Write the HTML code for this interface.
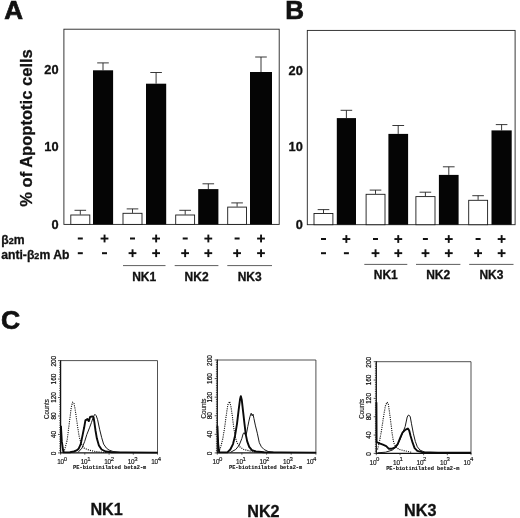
<!DOCTYPE html>
<html><head><meta charset="utf-8"><title>Figure</title>
<style>
html,body{margin:0;padding:0;background:#fff;}
body{width:520px;height:518px;overflow:hidden;font-family:"Liberation Sans",sans-serif;}
svg{display:block;filter:grayscale(1);}
text{font-family:"Liberation Sans",sans-serif;fill:#111;}
.b{font-weight:bold;stroke:#111;stroke-width:0.3px;}
.bb{font-weight:bold;stroke:#111;stroke-width:0.7px;}
</style></head><body>
<svg width="520" height="518" viewBox="0 0 520 518">
<rect width="520" height="518" fill="#fff"/>
<text class="bb" x="4.3" y="19" font-size="26">A</text>
<text class="bb" x="285.2" y="19.4" font-size="26">B</text>
<text class="bb" x="1" y="328.6" font-size="26.5">C</text>
<rect x="63.9" y="29.2" width="215.3" height="195.2" fill="none" stroke="#222" stroke-width="0.9"/>
<line x1="80.3" y1="210.3" x2="80.3" y2="214.6" stroke="#222" stroke-width="0.9"/><line x1="74.5" y1="210.3" x2="86.1" y2="210.3" stroke="#222" stroke-width="0.9"/><rect x="70.8" y="215.0" width="19.0" height="9.4" fill="#fff" stroke="#1a1a1a" stroke-width="0.9"/>
<line x1="103.0" y1="62.9" x2="103.0" y2="70.3" stroke="#222" stroke-width="0.9"/><line x1="97.2" y1="62.9" x2="108.8" y2="62.9" stroke="#222" stroke-width="0.9"/><rect x="93.0" y="70.3" width="20.1" height="154.1" fill="#050505"/>
<line x1="132.5" y1="208.9" x2="132.5" y2="212.9" stroke="#222" stroke-width="0.9"/><line x1="126.7" y1="208.9" x2="138.3" y2="208.9" stroke="#222" stroke-width="0.9"/><rect x="123.0" y="213.3" width="19.0" height="11.1" fill="#fff" stroke="#1a1a1a" stroke-width="0.9"/>
<line x1="156.1" y1="72.5" x2="156.1" y2="83.7" stroke="#222" stroke-width="0.9"/><line x1="150.3" y1="72.5" x2="161.9" y2="72.5" stroke="#222" stroke-width="0.9"/><rect x="146.0" y="83.7" width="20.2" height="140.7" fill="#050505"/>
<line x1="185.2" y1="210.3" x2="185.2" y2="214.6" stroke="#222" stroke-width="0.9"/><line x1="179.3" y1="210.3" x2="191.0" y2="210.3" stroke="#222" stroke-width="0.9"/><rect x="175.7" y="215.0" width="18.9" height="9.4" fill="#fff" stroke="#1a1a1a" stroke-width="0.9"/>
<line x1="208.3" y1="183.8" x2="208.3" y2="189.1" stroke="#222" stroke-width="0.9"/><line x1="202.5" y1="183.8" x2="214.1" y2="183.8" stroke="#222" stroke-width="0.9"/><rect x="198.2" y="189.1" width="20.2" height="35.3" fill="#050505"/>
<line x1="237.1" y1="202.9" x2="237.1" y2="206.7" stroke="#222" stroke-width="0.9"/><line x1="231.3" y1="202.9" x2="242.9" y2="202.9" stroke="#222" stroke-width="0.9"/><rect x="227.7" y="207.1" width="18.8" height="17.3" fill="#fff" stroke="#1a1a1a" stroke-width="0.9"/>
<line x1="261.0" y1="57.0" x2="261.0" y2="72.0" stroke="#222" stroke-width="0.9"/><line x1="255.2" y1="57.0" x2="266.8" y2="57.0" stroke="#222" stroke-width="0.9"/><rect x="250.0" y="72.0" width="22.0" height="152.4" fill="#050505"/>
<text class="b" x="58.6" y="74.4" font-size="12.8" text-anchor="end">20</text>
<text class="b" x="58.6" y="151.1" font-size="12.8" text-anchor="end">10</text>
<text class="b" x="58.6" y="228.7" font-size="12.8" text-anchor="end">0</text>
<text class="b" font-size="17" text-anchor="middle" transform="translate(32.1,128) rotate(-90) scale(0.975,1)">% of Apoptotic cells</text>
<text class="b" x="1.2" y="243.7" font-size="12.2">β<tspan font-size="9">2</tspan>m</text>
<text class="b" x="1.2" y="258.8" font-size="12.2">anti-β<tspan font-size="9">2</tspan>m Ab</text>
<rect x="77.8" y="237.5" width="5" height="2" fill="#111"/><rect x="77.8" y="252.2" width="5" height="2" fill="#111"/>
<rect x="100.6" y="237.6" width="7.8" height="1.9" fill="#111"/><rect x="103.6" y="234.6" width="1.9" height="7.8" fill="#111"/><rect x="102.0" y="252.2" width="5" height="2" fill="#111"/>
<rect x="130.0" y="237.5" width="5" height="2" fill="#111"/><rect x="128.6" y="252.2" width="7.8" height="1.9" fill="#111"/><rect x="131.6" y="249.3" width="1.9" height="7.8" fill="#111"/>
<rect x="152.2" y="237.6" width="7.8" height="1.9" fill="#111"/><rect x="155.2" y="234.6" width="1.9" height="7.8" fill="#111"/><rect x="152.2" y="252.2" width="7.8" height="1.9" fill="#111"/><rect x="155.2" y="249.3" width="1.9" height="7.8" fill="#111"/>
<rect x="182.7" y="237.5" width="5" height="2" fill="#111"/><rect x="181.2" y="252.2" width="7.8" height="1.9" fill="#111"/><rect x="184.2" y="249.3" width="1.9" height="7.8" fill="#111"/>
<rect x="204.4" y="237.6" width="7.8" height="1.9" fill="#111"/><rect x="207.4" y="234.6" width="1.9" height="7.8" fill="#111"/><rect x="204.4" y="252.2" width="7.8" height="1.9" fill="#111"/><rect x="207.4" y="249.3" width="1.9" height="7.8" fill="#111"/>
<rect x="234.6" y="237.5" width="5" height="2" fill="#111"/><rect x="233.2" y="252.2" width="7.8" height="1.9" fill="#111"/><rect x="236.2" y="249.3" width="1.9" height="7.8" fill="#111"/>
<rect x="257.1" y="237.6" width="7.8" height="1.9" fill="#111"/><rect x="260.1" y="234.6" width="1.9" height="7.8" fill="#111"/><rect x="257.1" y="252.2" width="7.8" height="1.9" fill="#111"/><rect x="260.1" y="249.3" width="1.9" height="7.8" fill="#111"/>
<line x1="123" y1="265.6" x2="165.5" y2="265.6" stroke="#333" stroke-width="0.8"/><text class="b" x="144.2" y="281.3" font-size="12" text-anchor="middle">NK1</text>
<line x1="174.7" y1="265.6" x2="218.4" y2="265.6" stroke="#333" stroke-width="0.8"/><text class="b" x="196.6" y="281.3" font-size="12" text-anchor="middle">NK2</text>
<line x1="227.3" y1="265.6" x2="272" y2="265.6" stroke="#333" stroke-width="0.8"/><text class="b" x="249.7" y="281.3" font-size="12" text-anchor="middle">NK3</text>
<rect x="307.3" y="30.4" width="207.8" height="194.3" fill="none" stroke="#222" stroke-width="0.9"/>
<line x1="323.5" y1="209.6" x2="323.5" y2="213.1" stroke="#222" stroke-width="0.9"/><line x1="317.7" y1="209.6" x2="329.3" y2="209.6" stroke="#222" stroke-width="0.9"/><rect x="314.0" y="213.5" width="18.9" height="11.2" fill="#fff" stroke="#1a1a1a" stroke-width="0.9"/>
<line x1="346.4" y1="110.3" x2="346.4" y2="118.1" stroke="#222" stroke-width="0.9"/><line x1="340.6" y1="110.3" x2="352.2" y2="110.3" stroke="#222" stroke-width="0.9"/><rect x="336.8" y="118.1" width="19.2" height="106.6" fill="#050505"/>
<line x1="375.5" y1="190.1" x2="375.5" y2="193.9" stroke="#222" stroke-width="0.9"/><line x1="369.7" y1="190.1" x2="381.3" y2="190.1" stroke="#222" stroke-width="0.9"/><rect x="366.1" y="194.3" width="18.9" height="30.4" fill="#fff" stroke="#1a1a1a" stroke-width="0.9"/>
<line x1="398.2" y1="125.5" x2="398.2" y2="133.9" stroke="#222" stroke-width="0.9"/><line x1="392.4" y1="125.5" x2="404.1" y2="125.5" stroke="#222" stroke-width="0.9"/><rect x="388.4" y="133.9" width="19.7" height="90.8" fill="#050505"/>
<line x1="425.4" y1="192.2" x2="425.4" y2="196.2" stroke="#222" stroke-width="0.9"/><line x1="419.6" y1="192.2" x2="431.2" y2="192.2" stroke="#222" stroke-width="0.9"/><rect x="415.9" y="196.6" width="19.1" height="28.1" fill="#fff" stroke="#1a1a1a" stroke-width="0.9"/>
<line x1="448.8" y1="166.8" x2="448.8" y2="174.9" stroke="#222" stroke-width="0.9"/><line x1="442.9" y1="166.8" x2="454.6" y2="166.8" stroke="#222" stroke-width="0.9"/><rect x="438.9" y="174.9" width="19.7" height="49.8" fill="#050505"/>
<line x1="478.1" y1="195.7" x2="478.1" y2="199.9" stroke="#222" stroke-width="0.9"/><line x1="472.3" y1="195.7" x2="483.9" y2="195.7" stroke="#222" stroke-width="0.9"/><rect x="468.7" y="200.3" width="18.9" height="24.4" fill="#fff" stroke="#1a1a1a" stroke-width="0.9"/>
<line x1="501.6" y1="124.6" x2="501.6" y2="130.4" stroke="#222" stroke-width="0.9"/><line x1="495.8" y1="124.6" x2="507.4" y2="124.6" stroke="#222" stroke-width="0.9"/><rect x="491.5" y="130.4" width="20.2" height="94.3" fill="#050505"/>
<text class="b" x="302.8" y="74.9" font-size="12.8" text-anchor="end">20</text>
<text class="b" x="302.8" y="151.4" font-size="12.8" text-anchor="end">10</text>
<text class="b" x="302.8" y="228.6" font-size="12.8" text-anchor="end">0</text>
<rect x="321.0" y="238.0" width="5" height="2" fill="#111"/><rect x="321.0" y="252.2" width="5" height="2" fill="#111"/>
<rect x="342.5" y="238.1" width="7.8" height="1.9" fill="#111"/><rect x="345.4" y="235.1" width="1.9" height="7.8" fill="#111"/><rect x="343.9" y="252.2" width="5" height="2" fill="#111"/>
<rect x="373.0" y="238.0" width="5" height="2" fill="#111"/><rect x="371.6" y="252.2" width="7.8" height="1.9" fill="#111"/><rect x="374.6" y="249.3" width="1.9" height="7.8" fill="#111"/>
<rect x="394.4" y="238.1" width="7.8" height="1.9" fill="#111"/><rect x="397.3" y="235.1" width="1.9" height="7.8" fill="#111"/><rect x="394.4" y="252.2" width="7.8" height="1.9" fill="#111"/><rect x="397.3" y="249.3" width="1.9" height="7.8" fill="#111"/>
<rect x="422.9" y="238.0" width="5" height="2" fill="#111"/><rect x="421.6" y="252.2" width="7.8" height="1.9" fill="#111"/><rect x="424.5" y="249.3" width="1.9" height="7.8" fill="#111"/>
<rect x="444.9" y="238.1" width="7.8" height="1.9" fill="#111"/><rect x="447.8" y="235.1" width="1.9" height="7.8" fill="#111"/><rect x="444.9" y="252.2" width="7.8" height="1.9" fill="#111"/><rect x="447.8" y="249.3" width="1.9" height="7.8" fill="#111"/>
<rect x="475.6" y="238.0" width="5" height="2" fill="#111"/><rect x="474.2" y="252.2" width="7.8" height="1.9" fill="#111"/><rect x="477.2" y="249.3" width="1.9" height="7.8" fill="#111"/>
<rect x="497.7" y="238.1" width="7.8" height="1.9" fill="#111"/><rect x="500.7" y="235.1" width="1.9" height="7.8" fill="#111"/><rect x="497.7" y="252.2" width="7.8" height="1.9" fill="#111"/><rect x="500.7" y="249.3" width="1.9" height="7.8" fill="#111"/>
<line x1="364.3" y1="264.4" x2="407.3" y2="264.4" stroke="#333" stroke-width="0.8"/><text class="b" x="385.8" y="279.3" font-size="12" text-anchor="middle">NK1</text>
<line x1="416" y1="264.4" x2="460.4" y2="264.4" stroke="#333" stroke-width="0.8"/><text class="b" x="438.2" y="279.3" font-size="12" text-anchor="middle">NK2</text>
<line x1="469.2" y1="264.4" x2="513.5" y2="264.4" stroke="#333" stroke-width="0.8"/><text class="b" x="491.4" y="279.3" font-size="12" text-anchor="middle">NK3</text>
<path d="M60.6,360.6 H157.5 V452.9" fill="none" stroke="#333" stroke-width="0.85"/>
<path d="M60.6,360.20000000000005 V452.9 H157.9" fill="none" stroke="#111" stroke-width="1.25"/>
<polyline points="63.8,452.4 65.1,448.1 67.2,440.0 68.5,429.2 69.9,418.4 71.2,407.6 72.6,402.2 73.9,402.8 75.3,410.3 76.6,419.7 78.0,429.2 79.3,437.3 81.4,444.1 84.1,448.1 87.4,449.5 91.5,450.8 98.2,451.9 106.4,452.4" fill="none" stroke="#111" stroke-width="1.1" stroke-dasharray="1.1,1.1"/>
<polyline points="78.0,452.4 82.0,448.1 84.7,441.4 86.8,434.6 89.5,427.8 91.5,422.4 93.5,416.4 94.9,414.3 96.2,415.7 97.6,419.7 99.6,429.2 101.6,437.3 103.6,444.1 106.4,448.1 109.1,450.1 113.1,451.5 119.9,452.4" fill="none" stroke="#1a1a1a" stroke-width="1.0"/>
<polyline points="60.9,425.8 61.8,441.4 63.4,452.4 69.9,452.2 73.9,451.5 76.6,450.4 78.6,448.8 80.7,444.1 82.7,434.6 84.1,427.8 85.4,420.4 87.4,419.1 88.8,421.1 90.1,417.0 92.2,416.4 93.5,417.0 94.2,421.1 95.5,430.5 96.9,438.6 98.9,445.4 101.6,449.5 105.7,451.5 111.8,452.2 125.0,452.4 157.4,452.6" fill="none" stroke="#0a0a0a" stroke-width="1.9" stroke-linejoin="round"/>
<line x1="58.0" y1="452.90" x2="60.6" y2="452.90" stroke="#222" stroke-width="0.75"/><line x1="59.2" y1="450.59" x2="60.6" y2="450.59" stroke="#222" stroke-width="0.75"/><line x1="59.2" y1="448.28" x2="60.6" y2="448.28" stroke="#222" stroke-width="0.75"/><line x1="59.2" y1="445.98" x2="60.6" y2="445.98" stroke="#222" stroke-width="0.75"/><line x1="59.2" y1="443.67" x2="60.6" y2="443.67" stroke="#222" stroke-width="0.75"/><line x1="59.2" y1="441.36" x2="60.6" y2="441.36" stroke="#222" stroke-width="0.75"/><line x1="59.2" y1="439.06" x2="60.6" y2="439.06" stroke="#222" stroke-width="0.75"/><line x1="59.2" y1="436.75" x2="60.6" y2="436.75" stroke="#222" stroke-width="0.75"/><line x1="58.0" y1="434.44" x2="60.6" y2="434.44" stroke="#222" stroke-width="0.75"/><line x1="59.2" y1="432.13" x2="60.6" y2="432.13" stroke="#222" stroke-width="0.75"/><line x1="59.2" y1="429.82" x2="60.6" y2="429.82" stroke="#222" stroke-width="0.75"/><line x1="59.2" y1="427.52" x2="60.6" y2="427.52" stroke="#222" stroke-width="0.75"/><line x1="59.2" y1="425.21" x2="60.6" y2="425.21" stroke="#222" stroke-width="0.75"/><line x1="59.2" y1="422.90" x2="60.6" y2="422.90" stroke="#222" stroke-width="0.75"/><line x1="59.2" y1="420.59" x2="60.6" y2="420.59" stroke="#222" stroke-width="0.75"/><line x1="59.2" y1="418.29" x2="60.6" y2="418.29" stroke="#222" stroke-width="0.75"/><line x1="58.0" y1="415.98" x2="60.6" y2="415.98" stroke="#222" stroke-width="0.75"/><line x1="59.2" y1="413.67" x2="60.6" y2="413.67" stroke="#222" stroke-width="0.75"/><line x1="59.2" y1="411.37" x2="60.6" y2="411.37" stroke="#222" stroke-width="0.75"/><line x1="59.2" y1="409.06" x2="60.6" y2="409.06" stroke="#222" stroke-width="0.75"/><line x1="59.2" y1="406.75" x2="60.6" y2="406.75" stroke="#222" stroke-width="0.75"/><line x1="59.2" y1="404.44" x2="60.6" y2="404.44" stroke="#222" stroke-width="0.75"/><line x1="59.2" y1="402.13" x2="60.6" y2="402.13" stroke="#222" stroke-width="0.75"/><line x1="59.2" y1="399.83" x2="60.6" y2="399.83" stroke="#222" stroke-width="0.75"/><line x1="58.0" y1="397.52" x2="60.6" y2="397.52" stroke="#222" stroke-width="0.75"/><line x1="59.2" y1="395.21" x2="60.6" y2="395.21" stroke="#222" stroke-width="0.75"/><line x1="59.2" y1="392.91" x2="60.6" y2="392.91" stroke="#222" stroke-width="0.75"/><line x1="59.2" y1="390.60" x2="60.6" y2="390.60" stroke="#222" stroke-width="0.75"/><line x1="59.2" y1="388.29" x2="60.6" y2="388.29" stroke="#222" stroke-width="0.75"/><line x1="59.2" y1="385.98" x2="60.6" y2="385.98" stroke="#222" stroke-width="0.75"/><line x1="59.2" y1="383.68" x2="60.6" y2="383.68" stroke="#222" stroke-width="0.75"/><line x1="59.2" y1="381.37" x2="60.6" y2="381.37" stroke="#222" stroke-width="0.75"/><line x1="58.0" y1="379.06" x2="60.6" y2="379.06" stroke="#222" stroke-width="0.75"/><line x1="59.2" y1="376.75" x2="60.6" y2="376.75" stroke="#222" stroke-width="0.75"/><line x1="59.2" y1="374.45" x2="60.6" y2="374.45" stroke="#222" stroke-width="0.75"/><line x1="59.2" y1="372.14" x2="60.6" y2="372.14" stroke="#222" stroke-width="0.75"/><line x1="59.2" y1="369.83" x2="60.6" y2="369.83" stroke="#222" stroke-width="0.75"/><line x1="59.2" y1="367.52" x2="60.6" y2="367.52" stroke="#222" stroke-width="0.75"/><line x1="59.2" y1="365.22" x2="60.6" y2="365.22" stroke="#222" stroke-width="0.75"/><line x1="59.2" y1="362.91" x2="60.6" y2="362.91" stroke="#222" stroke-width="0.75"/><line x1="58.0" y1="360.60" x2="60.6" y2="360.60" stroke="#222" stroke-width="0.75"/>
<text font-size="6.4" text-anchor="middle" stroke="#111" stroke-width="0.2" transform="translate(56.3,361.2) rotate(-90)">200</text>
<text font-size="6.4" text-anchor="middle" stroke="#111" stroke-width="0.2" transform="translate(56.3,379.1) rotate(-90)">160</text>
<text font-size="6.4" text-anchor="middle" stroke="#111" stroke-width="0.2" transform="translate(56.3,397.5) rotate(-90)">120</text>
<text font-size="6.4" text-anchor="middle" stroke="#111" stroke-width="0.2" transform="translate(56.3,416.0) rotate(-90)">80</text>
<text font-size="6.4" text-anchor="middle" stroke="#111" stroke-width="0.2" transform="translate(56.3,434.4) rotate(-90)">40</text>
<text font-size="6.4" text-anchor="middle" stroke="#111" stroke-width="0.2" transform="translate(56.3,453.5) rotate(-90)">0</text>
<text font-size="6.3" text-anchor="middle" stroke="#111" stroke-width="0.15" transform="translate(49.3,409.0) rotate(-90)">Counts</text>
<text font-size="6.4" stroke="#111" stroke-width="0.15" x="57.2" y="464.2" letter-spacing="-0.2">10</text><text font-size="6" stroke="#111" stroke-width="0.15" x="63.7" y="460.7">0</text>
<line x1="60.6" y1="452.9" x2="60.6" y2="454.7" stroke="#222" stroke-width="0.7"/>
<text font-size="6.4" stroke="#111" stroke-width="0.15" x="80.7" y="464.2" letter-spacing="-0.2">10</text><text font-size="6" stroke="#111" stroke-width="0.15" x="87.2" y="460.7">1</text>
<line x1="84.8" y1="452.9" x2="84.8" y2="454.7" stroke="#222" stroke-width="0.7"/>
<text font-size="6.4" stroke="#111" stroke-width="0.15" x="104.2" y="464.2" letter-spacing="-0.2">10</text><text font-size="6" stroke="#111" stroke-width="0.15" x="110.7" y="460.7">2</text>
<line x1="109.1" y1="452.9" x2="109.1" y2="454.7" stroke="#222" stroke-width="0.7"/>
<text font-size="6.4" stroke="#111" stroke-width="0.15" x="127.7" y="464.2" letter-spacing="-0.2">10</text><text font-size="6" stroke="#111" stroke-width="0.15" x="134.2" y="460.7">3</text>
<line x1="133.3" y1="452.9" x2="133.3" y2="454.7" stroke="#222" stroke-width="0.7"/>
<text font-size="6.4" stroke="#111" stroke-width="0.15" x="151.2" y="464.2" letter-spacing="-0.2">10</text><text font-size="6" stroke="#111" stroke-width="0.15" x="157.7" y="460.7">4</text>
<line x1="157.5" y1="452.9" x2="157.5" y2="454.7" stroke="#222" stroke-width="0.7"/>
<text font-family="Liberation Mono" style="font-family:'Liberation Mono',monospace" font-weight="bold" stroke="#111" stroke-width="0.12" font-size="6" x="73.1" y="469.4" textLength="73.2" lengthAdjust="spacingAndGlyphs">PE-biotinilated beta2-m</text>
<path d="M217.3,360 H315.9 V452.9" fill="none" stroke="#333" stroke-width="0.85"/>
<path d="M217.3,359.6 V452.9 H316.29999999999995" fill="none" stroke="#111" stroke-width="1.25"/>
<polyline points="218.8,452.4 220.8,446.8 222.8,438.6 224.6,427.8 226.2,415.7 227.8,404.9 229.6,401.5 230.9,406.2 232.3,415.7 233.6,426.5 235.0,435.9 237.0,442.7 239.7,446.8 243.8,449.5 249.2,450.8 255.9,452.2" fill="none" stroke="#111" stroke-width="1.1" stroke-dasharray="1.1,1.1"/>
<polyline points="230.3,452.4 235.7,449.5 239.1,445.4 241.8,438.6 243.1,433.9 244.1,432.6 245.1,434.6 245.9,435.3 246.8,431.9 247.8,426.5 248.9,421.1 250.0,416.4 251.2,413.2 252.2,415.9 253.0,414.1 253.9,418.4 255.3,425.1 257.3,433.2 259.3,442.7 261.4,446.8 264.1,449.5 268.1,451.5 273.5,452.2" fill="none" stroke="#1a1a1a" stroke-width="1.0"/>
<polyline points="217.4,425.8 218.2,444.1 219.2,452.4 227.6,452.2 230.3,449.5 233.0,444.1 235.0,435.9 237.0,423.8 238.6,410.3 240.0,399.5 240.8,396.1 241.8,400.1 243.1,411.6 244.5,423.8 245.8,434.6 247.2,441.4 249.2,446.8 251.9,450.1 255.9,451.5 264.1,452.2 280.0,452.4 315.9,452.6" fill="none" stroke="#0a0a0a" stroke-width="1.9" stroke-linejoin="round"/>
<line x1="214.7" y1="452.90" x2="217.3" y2="452.90" stroke="#222" stroke-width="0.75"/><line x1="215.9" y1="450.58" x2="217.3" y2="450.58" stroke="#222" stroke-width="0.75"/><line x1="215.9" y1="448.25" x2="217.3" y2="448.25" stroke="#222" stroke-width="0.75"/><line x1="215.9" y1="445.93" x2="217.3" y2="445.93" stroke="#222" stroke-width="0.75"/><line x1="215.9" y1="443.61" x2="217.3" y2="443.61" stroke="#222" stroke-width="0.75"/><line x1="215.9" y1="441.29" x2="217.3" y2="441.29" stroke="#222" stroke-width="0.75"/><line x1="215.9" y1="438.96" x2="217.3" y2="438.96" stroke="#222" stroke-width="0.75"/><line x1="215.9" y1="436.64" x2="217.3" y2="436.64" stroke="#222" stroke-width="0.75"/><line x1="214.7" y1="434.32" x2="217.3" y2="434.32" stroke="#222" stroke-width="0.75"/><line x1="215.9" y1="432.00" x2="217.3" y2="432.00" stroke="#222" stroke-width="0.75"/><line x1="215.9" y1="429.67" x2="217.3" y2="429.67" stroke="#222" stroke-width="0.75"/><line x1="215.9" y1="427.35" x2="217.3" y2="427.35" stroke="#222" stroke-width="0.75"/><line x1="215.9" y1="425.03" x2="217.3" y2="425.03" stroke="#222" stroke-width="0.75"/><line x1="215.9" y1="422.71" x2="217.3" y2="422.71" stroke="#222" stroke-width="0.75"/><line x1="215.9" y1="420.38" x2="217.3" y2="420.38" stroke="#222" stroke-width="0.75"/><line x1="215.9" y1="418.06" x2="217.3" y2="418.06" stroke="#222" stroke-width="0.75"/><line x1="214.7" y1="415.74" x2="217.3" y2="415.74" stroke="#222" stroke-width="0.75"/><line x1="215.9" y1="413.42" x2="217.3" y2="413.42" stroke="#222" stroke-width="0.75"/><line x1="215.9" y1="411.09" x2="217.3" y2="411.09" stroke="#222" stroke-width="0.75"/><line x1="215.9" y1="408.77" x2="217.3" y2="408.77" stroke="#222" stroke-width="0.75"/><line x1="215.9" y1="406.45" x2="217.3" y2="406.45" stroke="#222" stroke-width="0.75"/><line x1="215.9" y1="404.13" x2="217.3" y2="404.13" stroke="#222" stroke-width="0.75"/><line x1="215.9" y1="401.81" x2="217.3" y2="401.81" stroke="#222" stroke-width="0.75"/><line x1="215.9" y1="399.48" x2="217.3" y2="399.48" stroke="#222" stroke-width="0.75"/><line x1="214.7" y1="397.16" x2="217.3" y2="397.16" stroke="#222" stroke-width="0.75"/><line x1="215.9" y1="394.84" x2="217.3" y2="394.84" stroke="#222" stroke-width="0.75"/><line x1="215.9" y1="392.51" x2="217.3" y2="392.51" stroke="#222" stroke-width="0.75"/><line x1="215.9" y1="390.19" x2="217.3" y2="390.19" stroke="#222" stroke-width="0.75"/><line x1="215.9" y1="387.87" x2="217.3" y2="387.87" stroke="#222" stroke-width="0.75"/><line x1="215.9" y1="385.55" x2="217.3" y2="385.55" stroke="#222" stroke-width="0.75"/><line x1="215.9" y1="383.23" x2="217.3" y2="383.23" stroke="#222" stroke-width="0.75"/><line x1="215.9" y1="380.90" x2="217.3" y2="380.90" stroke="#222" stroke-width="0.75"/><line x1="214.7" y1="378.58" x2="217.3" y2="378.58" stroke="#222" stroke-width="0.75"/><line x1="215.9" y1="376.26" x2="217.3" y2="376.26" stroke="#222" stroke-width="0.75"/><line x1="215.9" y1="373.94" x2="217.3" y2="373.94" stroke="#222" stroke-width="0.75"/><line x1="215.9" y1="371.61" x2="217.3" y2="371.61" stroke="#222" stroke-width="0.75"/><line x1="215.9" y1="369.29" x2="217.3" y2="369.29" stroke="#222" stroke-width="0.75"/><line x1="215.9" y1="366.97" x2="217.3" y2="366.97" stroke="#222" stroke-width="0.75"/><line x1="215.9" y1="364.64" x2="217.3" y2="364.64" stroke="#222" stroke-width="0.75"/><line x1="215.9" y1="362.32" x2="217.3" y2="362.32" stroke="#222" stroke-width="0.75"/><line x1="214.7" y1="360.00" x2="217.3" y2="360.00" stroke="#222" stroke-width="0.75"/>
<text font-size="6.4" text-anchor="middle" stroke="#111" stroke-width="0.2" transform="translate(212.4,360.6) rotate(-90)">200</text>
<text font-size="6.4" text-anchor="middle" stroke="#111" stroke-width="0.2" transform="translate(212.4,378.6) rotate(-90)">160</text>
<text font-size="6.4" text-anchor="middle" stroke="#111" stroke-width="0.2" transform="translate(212.4,397.2) rotate(-90)">120</text>
<text font-size="6.4" text-anchor="middle" stroke="#111" stroke-width="0.2" transform="translate(212.4,415.7) rotate(-90)">80</text>
<text font-size="6.4" text-anchor="middle" stroke="#111" stroke-width="0.2" transform="translate(212.4,434.3) rotate(-90)">40</text>
<text font-size="6.4" text-anchor="middle" stroke="#111" stroke-width="0.2" transform="translate(212.4,453.5) rotate(-90)">0</text>
<text font-size="6.3" text-anchor="middle" stroke="#111" stroke-width="0.15" transform="translate(206.0,408.5) rotate(-90)">Counts</text>
<text font-size="6.4" stroke="#111" stroke-width="0.15" x="212.6" y="464.2" letter-spacing="-0.2">10</text><text font-size="6" stroke="#111" stroke-width="0.15" x="219.1" y="460.7">0</text>
<line x1="217.3" y1="452.9" x2="217.3" y2="454.7" stroke="#222" stroke-width="0.7"/>
<text font-size="6.4" stroke="#111" stroke-width="0.15" x="236.1" y="464.2" letter-spacing="-0.2">10</text><text font-size="6" stroke="#111" stroke-width="0.15" x="242.6" y="460.7">1</text>
<line x1="241.9" y1="452.9" x2="241.9" y2="454.7" stroke="#222" stroke-width="0.7"/>
<text font-size="6.4" stroke="#111" stroke-width="0.15" x="259.6" y="464.2" letter-spacing="-0.2">10</text><text font-size="6" stroke="#111" stroke-width="0.15" x="266.1" y="460.7">2</text>
<line x1="266.6" y1="452.9" x2="266.6" y2="454.7" stroke="#222" stroke-width="0.7"/>
<text font-size="6.4" stroke="#111" stroke-width="0.15" x="283.1" y="464.2" letter-spacing="-0.2">10</text><text font-size="6" stroke="#111" stroke-width="0.15" x="289.6" y="460.7">3</text>
<line x1="291.2" y1="452.9" x2="291.2" y2="454.7" stroke="#222" stroke-width="0.7"/>
<text font-size="6.4" stroke="#111" stroke-width="0.15" x="306.6" y="464.2" letter-spacing="-0.2">10</text><text font-size="6" stroke="#111" stroke-width="0.15" x="313.1" y="460.7">4</text>
<line x1="315.9" y1="452.9" x2="315.9" y2="454.7" stroke="#222" stroke-width="0.7"/>
<text font-family="Liberation Mono" style="font-family:'Liberation Mono',monospace" font-weight="bold" stroke="#111" stroke-width="0.12" font-size="6" x="229.0" y="469.4" textLength="73.2" lengthAdjust="spacingAndGlyphs">PE-biotinilated beta2-m</text>
<path d="M376.3,361.7 H471 V453.4" fill="none" stroke="#333" stroke-width="0.85"/>
<path d="M376.3,361.3 V453.4 H471.4" fill="none" stroke="#111" stroke-width="1.25"/>
<polyline points="377.5,449.5 379.5,441.4 381.5,430.5 383.5,417.0 385.3,406.2 386.9,402.2 388.3,403.5 389.6,413.0 391.0,423.8 392.3,434.6 393.7,442.7 395.7,446.8 399.1,449.5 404.5,450.8 411.2,452.2" fill="none" stroke="#111" stroke-width="1.1" stroke-dasharray="1.1,1.1"/>
<polyline points="377.5,452.8 385.6,452.2 392.3,450.1 396.4,446.8 399.8,440.0 402.5,433.2 405.2,426.5 407.2,417.0 408.5,415.0 410.2,416.4 411.5,423.8 413.3,433.2 415.3,441.4 417.3,446.8 420.0,450.1 424.8,452.2" fill="none" stroke="#1a1a1a" stroke-width="1.0"/>
<polyline points="376.4,402.2 376.6,442.0 379.5,443.4 382.9,444.7 386.2,446.1 388.9,448.8 391.6,448.8 395.0,447.4 397.7,444.1 400.4,437.3 402.5,432.6 405.2,429.9 407.9,428.5 409.2,430.5 410.6,435.9 412.6,442.7 414.6,448.1 417.3,450.8 422.1,452.2 438.0,452.8 471,452.8" fill="none" stroke="#0a0a0a" stroke-width="1.9" stroke-linejoin="round"/>
<line x1="373.7" y1="453.40" x2="376.3" y2="453.40" stroke="#222" stroke-width="0.75"/><line x1="374.9" y1="451.11" x2="376.3" y2="451.11" stroke="#222" stroke-width="0.75"/><line x1="374.9" y1="448.81" x2="376.3" y2="448.81" stroke="#222" stroke-width="0.75"/><line x1="374.9" y1="446.52" x2="376.3" y2="446.52" stroke="#222" stroke-width="0.75"/><line x1="374.9" y1="444.23" x2="376.3" y2="444.23" stroke="#222" stroke-width="0.75"/><line x1="374.9" y1="441.94" x2="376.3" y2="441.94" stroke="#222" stroke-width="0.75"/><line x1="374.9" y1="439.64" x2="376.3" y2="439.64" stroke="#222" stroke-width="0.75"/><line x1="374.9" y1="437.35" x2="376.3" y2="437.35" stroke="#222" stroke-width="0.75"/><line x1="373.7" y1="435.06" x2="376.3" y2="435.06" stroke="#222" stroke-width="0.75"/><line x1="374.9" y1="432.77" x2="376.3" y2="432.77" stroke="#222" stroke-width="0.75"/><line x1="374.9" y1="430.47" x2="376.3" y2="430.47" stroke="#222" stroke-width="0.75"/><line x1="374.9" y1="428.18" x2="376.3" y2="428.18" stroke="#222" stroke-width="0.75"/><line x1="374.9" y1="425.89" x2="376.3" y2="425.89" stroke="#222" stroke-width="0.75"/><line x1="374.9" y1="423.60" x2="376.3" y2="423.60" stroke="#222" stroke-width="0.75"/><line x1="374.9" y1="421.31" x2="376.3" y2="421.31" stroke="#222" stroke-width="0.75"/><line x1="374.9" y1="419.01" x2="376.3" y2="419.01" stroke="#222" stroke-width="0.75"/><line x1="373.7" y1="416.72" x2="376.3" y2="416.72" stroke="#222" stroke-width="0.75"/><line x1="374.9" y1="414.43" x2="376.3" y2="414.43" stroke="#222" stroke-width="0.75"/><line x1="374.9" y1="412.13" x2="376.3" y2="412.13" stroke="#222" stroke-width="0.75"/><line x1="374.9" y1="409.84" x2="376.3" y2="409.84" stroke="#222" stroke-width="0.75"/><line x1="374.9" y1="407.55" x2="376.3" y2="407.55" stroke="#222" stroke-width="0.75"/><line x1="374.9" y1="405.26" x2="376.3" y2="405.26" stroke="#222" stroke-width="0.75"/><line x1="374.9" y1="402.96" x2="376.3" y2="402.96" stroke="#222" stroke-width="0.75"/><line x1="374.9" y1="400.67" x2="376.3" y2="400.67" stroke="#222" stroke-width="0.75"/><line x1="373.7" y1="398.38" x2="376.3" y2="398.38" stroke="#222" stroke-width="0.75"/><line x1="374.9" y1="396.09" x2="376.3" y2="396.09" stroke="#222" stroke-width="0.75"/><line x1="374.9" y1="393.79" x2="376.3" y2="393.79" stroke="#222" stroke-width="0.75"/><line x1="374.9" y1="391.50" x2="376.3" y2="391.50" stroke="#222" stroke-width="0.75"/><line x1="374.9" y1="389.21" x2="376.3" y2="389.21" stroke="#222" stroke-width="0.75"/><line x1="374.9" y1="386.92" x2="376.3" y2="386.92" stroke="#222" stroke-width="0.75"/><line x1="374.9" y1="384.62" x2="376.3" y2="384.62" stroke="#222" stroke-width="0.75"/><line x1="374.9" y1="382.33" x2="376.3" y2="382.33" stroke="#222" stroke-width="0.75"/><line x1="373.7" y1="380.04" x2="376.3" y2="380.04" stroke="#222" stroke-width="0.75"/><line x1="374.9" y1="377.75" x2="376.3" y2="377.75" stroke="#222" stroke-width="0.75"/><line x1="374.9" y1="375.45" x2="376.3" y2="375.45" stroke="#222" stroke-width="0.75"/><line x1="374.9" y1="373.16" x2="376.3" y2="373.16" stroke="#222" stroke-width="0.75"/><line x1="374.9" y1="370.87" x2="376.3" y2="370.87" stroke="#222" stroke-width="0.75"/><line x1="374.9" y1="368.58" x2="376.3" y2="368.58" stroke="#222" stroke-width="0.75"/><line x1="374.9" y1="366.28" x2="376.3" y2="366.28" stroke="#222" stroke-width="0.75"/><line x1="374.9" y1="363.99" x2="376.3" y2="363.99" stroke="#222" stroke-width="0.75"/><line x1="373.7" y1="361.70" x2="376.3" y2="361.70" stroke="#222" stroke-width="0.75"/>
<text font-size="6.4" text-anchor="middle" stroke="#111" stroke-width="0.2" transform="translate(370.7,362.3) rotate(-90)">200</text>
<text font-size="6.4" text-anchor="middle" stroke="#111" stroke-width="0.2" transform="translate(370.7,380.0) rotate(-90)">160</text>
<text font-size="6.4" text-anchor="middle" stroke="#111" stroke-width="0.2" transform="translate(370.7,398.4) rotate(-90)">120</text>
<text font-size="6.4" text-anchor="middle" stroke="#111" stroke-width="0.2" transform="translate(370.7,416.7) rotate(-90)">80</text>
<text font-size="6.4" text-anchor="middle" stroke="#111" stroke-width="0.2" transform="translate(370.7,435.1) rotate(-90)">40</text>
<text font-size="6.4" text-anchor="middle" stroke="#111" stroke-width="0.2" transform="translate(370.7,454.0) rotate(-90)">0</text>
<text font-size="6.3" text-anchor="middle" stroke="#111" stroke-width="0.15" transform="translate(363.9,408.8) rotate(-90)">Counts</text>
<text font-size="6.4" stroke="#111" stroke-width="0.15" x="369.6" y="464.7" letter-spacing="-0.2">10</text><text font-size="6" stroke="#111" stroke-width="0.15" x="376.1" y="461.2">0</text>
<line x1="376.3" y1="453.4" x2="376.3" y2="455.2" stroke="#222" stroke-width="0.7"/>
<text font-size="6.4" stroke="#111" stroke-width="0.15" x="393.1" y="464.7" letter-spacing="-0.2">10</text><text font-size="6" stroke="#111" stroke-width="0.15" x="399.6" y="461.2">1</text>
<line x1="400.0" y1="453.4" x2="400.0" y2="455.2" stroke="#222" stroke-width="0.7"/>
<text font-size="6.4" stroke="#111" stroke-width="0.15" x="416.6" y="464.7" letter-spacing="-0.2">10</text><text font-size="6" stroke="#111" stroke-width="0.15" x="423.1" y="461.2">2</text>
<line x1="423.6" y1="453.4" x2="423.6" y2="455.2" stroke="#222" stroke-width="0.7"/>
<text font-size="6.4" stroke="#111" stroke-width="0.15" x="440.1" y="464.7" letter-spacing="-0.2">10</text><text font-size="6" stroke="#111" stroke-width="0.15" x="446.6" y="461.2">3</text>
<line x1="447.3" y1="453.4" x2="447.3" y2="455.2" stroke="#222" stroke-width="0.7"/>
<text font-size="6.4" stroke="#111" stroke-width="0.15" x="463.6" y="464.7" letter-spacing="-0.2">10</text><text font-size="6" stroke="#111" stroke-width="0.15" x="470.1" y="461.2">4</text>
<line x1="471.0" y1="453.4" x2="471.0" y2="455.2" stroke="#222" stroke-width="0.7"/>
<text font-family="Liberation Mono" style="font-family:'Liberation Mono',monospace" font-weight="bold" stroke="#111" stroke-width="0.12" font-size="6" x="386.2" y="469.9" textLength="73.2" lengthAdjust="spacingAndGlyphs">PE-biotinilated beta2-m</text>
<text class="b" x="90.4" y="514.8" font-size="16.2">NK1</text>
<text class="b" x="247.2" y="516.6" font-size="16.2">NK2</text>
<text class="b" x="404.1" y="516.2" font-size="16.2">NK3</text>
</svg></body></html>
